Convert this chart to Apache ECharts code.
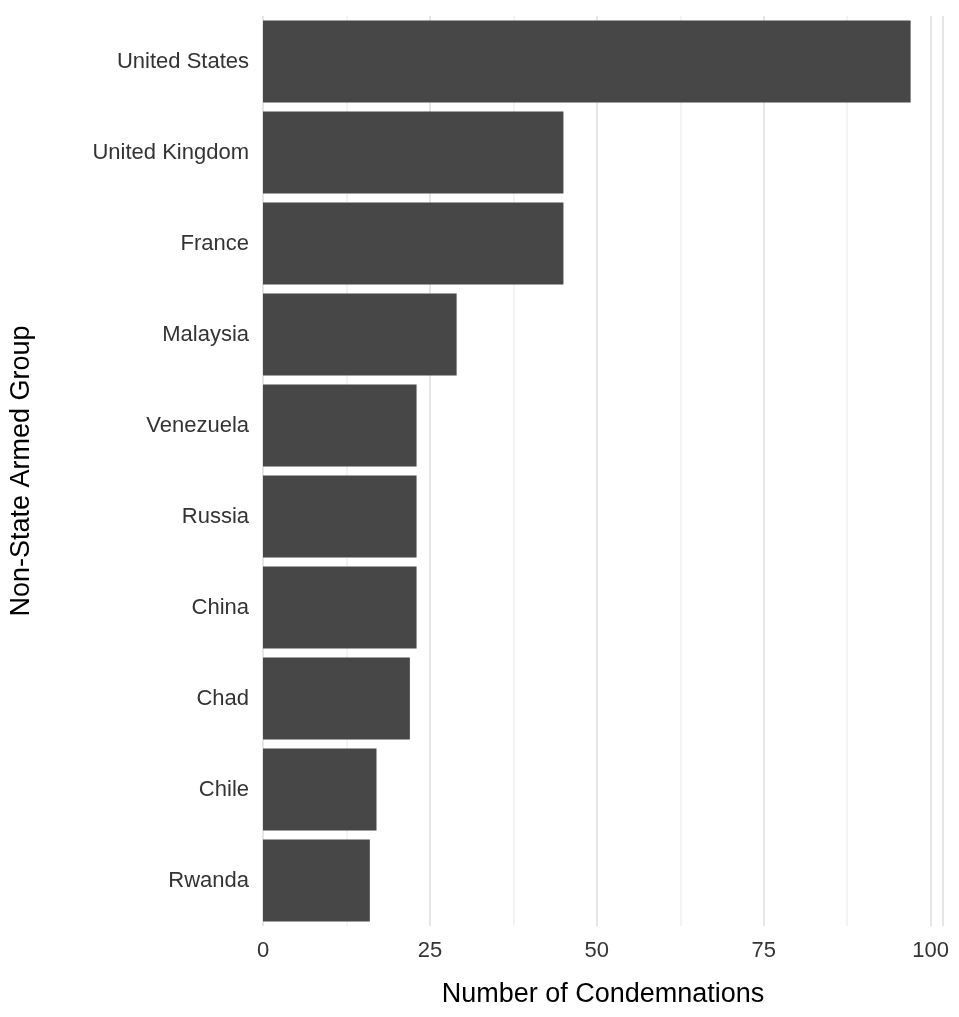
<!DOCTYPE html><html><head><meta charset="utf-8">
<script src="https://cdn.jsdelivr.net/npm/echarts@6/dist/echarts.min.js"></script>
<style>html,body{margin:0;background:#fff}#c{width:959px;height:1017px}</style></head>
<body><div id="c"></div><script>
const categories=["United States","United Kingdom","France","Malaysia","Venezuela","Russia","China","Chad","Chile","Rwanda"];
const values=[97,45,45,29,23,23,23,22,17,16];
const c=echarts.init(document.getElementById('c'));
c.setOption({
 animation:false,
 grid:{left:257,right:16,top:16,bottom:91,containLabel:false},
 xAxis:{type:'value',min:0,max:101.85,interval:25,
  name:'Number of Condemnations',nameLocation:'middle',nameGap:55,
  nameTextStyle:{fontSize:27,color:'#000',fontFamily:'Liberation Sans'},
  axisLine:{show:false},axisTick:{show:false},
  axisLabel:{fontSize:22,color:'#333',fontFamily:'Liberation Sans',margin:14,showMaxLabel:false,
   formatter:v=>v%25===0?String(v):''},
  splitLine:{lineStyle:{color:'#e6e6e6',width:2}},
  minorTick:{show:false,splitNumber:2},
  minorSplitLine:{show:true,lineStyle:{color:'#f0f0f0',width:1.5}}},
 yAxis:{type:'category',data:categories,inverse:true,
  name:'Non-State Armed Group',nameLocation:'middle',nameGap:228,
  nameTextStyle:{fontSize:27,color:'#000',fontFamily:'Liberation Sans'},
  axisLine:{show:false},axisTick:{show:false},
  axisLabel:{fontSize:22,color:'#333',fontFamily:'Liberation Sans',margin:14}},
 series:[{type:'bar',data:values,barCategoryGap:'10%',itemStyle:{color:'#474747'}}]
});
</script></body></html>
